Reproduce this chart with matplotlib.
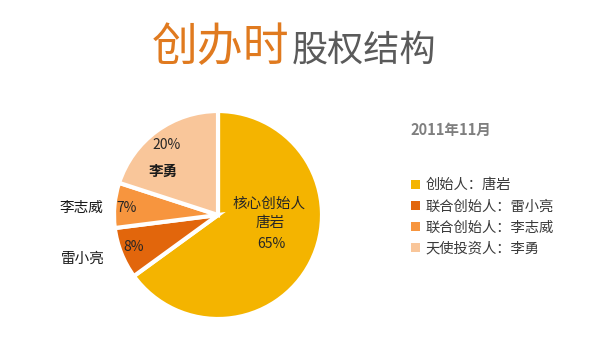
import matplotlib.pyplot as plt
from matplotlib.patches import Rectangle

plt.rcParams['font.family'] = ['Noto Sans CJK SC', 'DejaVu Sans']

# data
legend_labels = ['创始人：唐岩', '联合创始人：雷小亮', '联合创始人：李志威', '天使投资人：李勇']
shares = [65, 8, 7, 20]
colors = ['#F4B400', '#E2660C', '#F7953E', '#F9C69A']
date_label = '2011年11月'

W, H = 595, 348
fig = plt.figure(figsize=(W / 100, H / 100), dpi=100)
fig.patch.set_facecolor('white')


def fx(px):
    return px / W


def fy(py):
    return 1 - py / H


# pie axes: center ~ (218, 215), radius ~104 px
cx, cy, r = 218, 215, 104
ax = fig.add_axes([fx(cx - r), fy(cy + r), 2 * r / W, 2 * r / H])
wedges, _ = ax.pie(shares, colors=colors, startangle=90, counterclock=False,
                   wedgeprops=dict(edgecolor='white', linewidth=3))
ax.set_aspect('equal')
ax.set_xlim(-1, 1)
ax.set_ylim(-1, 1)


def put(px, py, s, **kw):
    fig.text(fx(px), fy(py), s, ha='center', va='center', **kw)


# slice labels
put(269, 204, '核心创始人', fontsize=10.5, color='#262626')
put(270, 223, '唐岩', fontsize=10.5, color='#262626')
put(271, 244, '65%', fontsize=10, color='#262626')
put(167, 145, '20%', fontsize=10, color='#262626')
put(163, 171, '李勇', fontsize=10.5, color='#1a1a1a', fontweight='bold')
put(127, 208, '7%', fontsize=10, color='#262626')
put(81, 208, '李志威', fontsize=10.5, color='#1a1a1a')
put(134, 247, '8%', fontsize=10, color='#262626')
put(83, 259, '雷小亮', fontsize=10.5, color='#1a1a1a')

# title
fig.text(fx(289), fy(61), '创办时', ha='right', va='baseline',
         fontsize=33, color='#E07A1F')
fig.text(fx(292), fy(61), '股权结构', ha='left', va='baseline',
         fontsize=26, color='#5A5A5A')

# legend
fig.text(fx(410), fy(130), date_label, ha='left', va='center',
         fontsize=10.5, fontweight='bold', color='#7F7F7F')
handles = [Rectangle((0, 0), 1, 1, facecolor=c, edgecolor='none') for c in colors]
leg = fig.legend(handles, legend_labels, loc='upper left',
                 bbox_to_anchor=(fx(404), fy(171)), frameon=False,
                 fontsize=10.3, handlelength=0.6, handleheight=0.6,
                 handletextpad=0.4, labelspacing=0.5, borderpad=0)
for t in leg.get_texts():
    t.set_color('#3a3a3a')

fig.savefig('out.png', dpi=100, facecolor='white')
